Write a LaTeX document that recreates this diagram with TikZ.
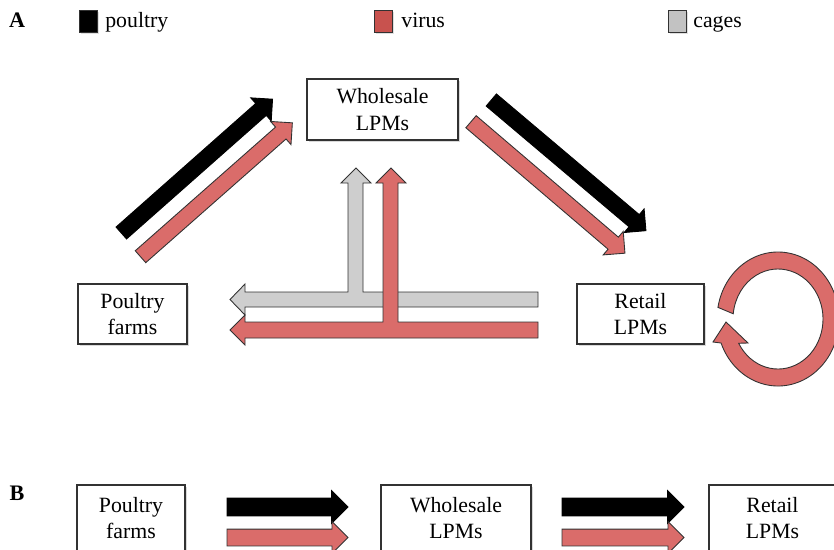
\documentclass[tikz,border=0pt]{standalone}
\usepackage{fontspec}
\setmainfont{Liberation Serif}
\usepackage{xcolor}
\usetikzlibrary{shapes.arrows,shadows,positioning}

\definecolor{virus}{RGB}{218,108,106}
\definecolor{viruskey}{RGB}{200,82,78}
\definecolor{cage}{RGB}{206,206,206}
\definecolor{cagekey}{RGB}{194,194,194}
\definecolor{edge}{RGB}{50,50,50}

\tikzset{
  txt/.style={font=\fontsize{12.4}{15}\selectfont, inner sep=0pt},
  market/.style={txt, draw=edge, line width=0.6pt, fill=white, align=center,
    drop shadow={shadow xshift=1.3pt, shadow yshift=-1.3pt, opacity=0.3}},
  fatarrow/.style={single arrow, draw=edge, line width=0.5pt, inner xsep=0pt,
    inner ysep=0.15cm, single arrow head extend=0.15cm, outer sep=0pt,
    minimum height=#1, anchor=tail},
  teeshape/.style={draw=edge, line width=0.5pt},
  legendbox/.style={draw=edge, line width=0.5pt, minimum width=0.36cm,
    minimum height=0.44cm, inner sep=0pt,
    drop shadow={shadow xshift=0.8pt, shadow yshift=-0.8pt, opacity=0.25}}
}

\begin{document}
\begin{tikzpicture}[x=0.02cm, y=-0.02cm]
\useasboundingbox (0,0) rectangle (834,549);

% legend
\node[txt, font=\fontsize{12.6}{15}\selectfont\bfseries, anchor=base] (labA) at (17,27) {A};
\node[legendbox, fill=black] (kpoultry) at (88.5,21.5) {};
\node[txt, anchor=base west] (tpoultry) at (105,27.5) {poultry};
\node[legendbox, fill=viruskey] (kvirus) at (383.5,21.5) {};
\node[txt, anchor=base west] (tvirus) at (401,27.5) {virus};
\node[legendbox, fill=cagekey] (kcage) at (677.5,21.5) {};
\node[txt, anchor=base west] (tcage) at (693,27.5) {cages};

% panel A
\node[market, minimum width=3.02cm, minimum height=1.22cm] (wholesale) at (382.5,109.5) {Wholesale\\LPMs};
\node[market, minimum width=2.18cm, minimum height=1.2cm] (farms) at (132.5,314) {Poultry\\farms};
\node[market, minimum width=2.54cm, minimum height=1.2cm] (retail) at (640.5,314) {Retail\\LPMs};

\node[fatarrow=4.04cm, fill=black, draw=black, rotate=41.5] (fwp) at (121.3,233) {};
\node[fatarrow=4.05cm, fill=virus, rotate=41.4] (fwv) at (140.5,256.7) {};
\node[fatarrow=4.05cm, fill=black, draw=black, rotate=-40.2] (wrp) at (491.3,100) {};
\node[fatarrow=4.05cm, fill=virus, rotate=-40.5] (wrv) at (471,121.7) {};

% cages and virus going back
\draw[teeshape, fill=cage] (538,292) -- (363,292) -- (363,183) -- (371,183) -- (356,168)
  -- (341,183) -- (348,183) -- (348,292) -- (245,292) -- (245,284) -- (230,299.5)
  -- (245,315) -- (245,307) -- (538,307) -- cycle;
\draw[teeshape, fill=virus] (538,322) -- (398,322) -- (398,183) -- (406,183) -- (391,168)
  -- (376,183) -- (383,183) -- (383,322) -- (245,322) -- (245,315) -- (230,330)
  -- (245,345) -- (245,338) -- (538,338) -- cycle;

% virus staying in retail markets
\coordinate (loopc) at (778,319);
\draw[teeshape, fill=virus] ([shift={(190:61 and 67)}]loopc)
  arc[start angle=190, end angle=519, x radius=61, y radius=67]
  -- (713,342) -- (726,322) -- (748,343) -- ([shift={(511:45 and 50)}]loopc)
  arc[start angle=511, end angle=186, x radius=45, y radius=50] -- cycle;

% panel B
\node[txt, font=\fontsize{12.6}{15}\selectfont\bfseries, anchor=base] (labB) at (17,500) {B};
\node[market, minimum width=2.16cm, minimum height=1.32cm] (farmsB) at (131,518) {Poultry\\farms};
\node[market, minimum width=3cm, minimum height=1.32cm] (wholesaleB) at (456,518) {Wholesale\\LPMs};
\node[market, minimum width=2.54cm, minimum height=1.32cm] (retailB) at (772.5,518) {Retail\\LPMs};

\node[fatarrow=2.42cm, fill=black, draw=black, inner ysep=0.17cm] (fwpB) at (227,507) {};
\node[fatarrow=2.42cm, fill=virus, inner ysep=0.16cm] (fwvB) at (227,537.5) {};
\node[fatarrow=2.44cm, fill=black, draw=black, inner ysep=0.17cm] (wrpB) at (562,507) {};
\node[fatarrow=2.44cm, fill=virus, inner ysep=0.16cm] (wrvB) at (562,537.5) {};
\end{tikzpicture}
\end{document}
